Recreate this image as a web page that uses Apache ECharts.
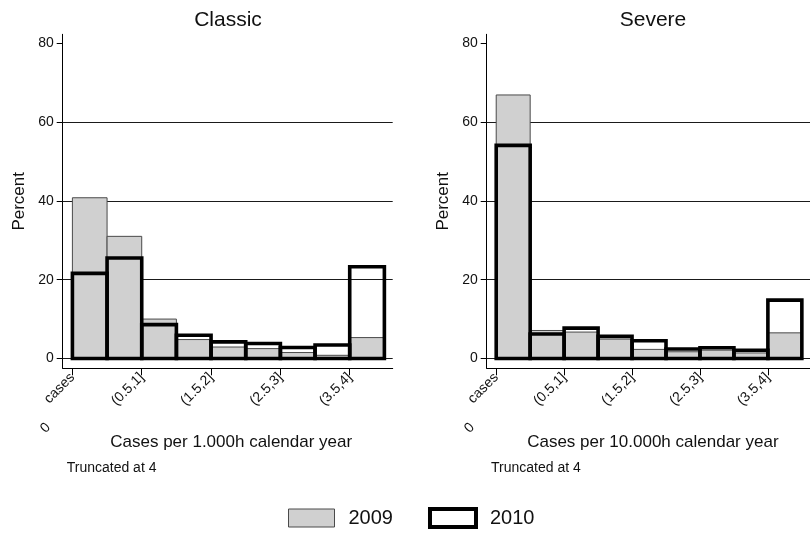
<!DOCTYPE html>
<html>
<head>
<meta charset="utf-8">
<script src="https://cdn.jsdelivr.net/npm/echarts@6/dist/echarts.min.js"></script>
<style>
  html, body { margin: 0; padding: 0; background: #fff; }
  #chart { width: 810px; height: 533px; }
</style>
</head>
<body>
<div id="chart"></div>
<script>
// ---- data ----
const binEdges = [0, 0.5, 1, 1.5, 2, 2.5, 3, 3.5, 4, 4.5];
const classic2009 = [40.8, 31.0, 10.0, 4.8, 2.9, 2.5, 1.5, 0.8, 5.3];
const classic2010 = [21.6, 25.5, 8.6, 5.9, 4.2, 3.8, 2.8, 3.4, 23.3];
const severe2009 = [66.9, 7.1, 6.7, 4.9, 2.3, 1.7, 2.1, 1.4, 6.5];
const severe2010 = [54.1, 6.2, 7.7, 5.6, 4.5, 2.4, 2.7, 2.1, 14.8];
const tickValues = [0, 1, 2, 3, 4];
const tickLabels = ['cases', '(0.5,1]', '(1.5,2]', '(2.5,3]', '(3.5,4]'];
const zeroLabel = '0';
const yTicks = [0, 20, 40, 60, 80];
const gridLines = [0, 20, 40, 60];
const panelTitles = ['Classic', 'Severe'];
const xTitles = ['Cases per 1.000h calendar year', 'Cases per 10.000h calendar year'];
const noteText = 'Truncated at 4';
const years = ['2009', '2010'];

// ---- helpers ----
function toBins(values) {
  return values.map((v, i) => [binEdges[i], binEdges[i + 1], v]);
}
function makeRender(style) {
  return function (params, api) {
    const x0 = api.value(0), x1 = api.value(1), v = api.value(2);
    const p0 = api.coord([x0, 0]);
    const p1 = api.coord([x1, v]);
    return {
      type: 'rect',
      shape: { x: p0[0], y: p1[1], width: p1[0] - p0[0], height: p0[1] - p1[1] },
      style: style
    };
  };
}
const style2009 = { fill: '#d0d0d0', stroke: '#4a4a4a', lineWidth: 1 };
const style2010 = { fill: 'none', stroke: '#000', lineWidth: 3.6 };
const txt = '#111';
const font = 'Liberation Sans, Arial, Helvetica, sans-serif';

const grids = [
  { left: 62.7, top: 34.3, width: 330, height: 334 },
  { left: 486.7, top: 34.3, width: 330, height: 334 }
];

const xAxes = [], yAxes = [], series = [];
[0, 1].forEach(g => {
  xAxes.push({
    gridIndex: g, type: 'value', min: -0.14, max: 4.62,
    axisLine: { show: true, onZero: false, lineStyle: { color: '#000', width: 1 } },
    axisTick: { show: true, customValues: tickValues, length: 7, lineStyle: { color: '#000', width: 1 } },
    axisLabel: {
      customValues: tickValues, rotate: 45, margin: 7, fontSize: 14, color: txt, fontFamily: font,
      formatter: v => tickLabels[tickValues.indexOf(v)] ?? ''
    },
    splitLine: { show: false },
    name: xTitles[g], nameLocation: 'middle', nameGap: 66,
    nameTextStyle: { fontSize: 17, color: txt, fontFamily: font, padding: [0, 0, 0, g === 0 ? 7 : 9] }
  });
  // secondary axis carrying the "0" of "0 cases"
  xAxes.push({
    gridIndex: g, type: 'value', min: -0.14, max: 4.62, position: 'bottom',
    axisLine: { show: false, onZero: false }, axisTick: { show: false },
    axisLabel: {
      customValues: [tickValues[0]], rotate: 45, margin: 33, fontSize: 14, color: txt, fontFamily: font,
      padding: [0, 34, 0, 0],
      formatter: () => zeroLabel
    },
    splitLine: { show: false }
  });
  yAxes.push({
    gridIndex: g, type: 'value', min: -2.5, max: 82.3,
    axisLine: { show: true, onZero: false, lineStyle: { color: '#000', width: 1 } },
    axisTick: { show: true, customValues: yTicks, length: 6, lineStyle: { color: '#000', width: 1 } },
    axisLabel: { customValues: yTicks, fontSize: 14, margin: 9, color: txt, fontFamily: font, padding: [5, 0, 0, 0] },
    splitLine: { show: false },
    name: 'Percent', nameLocation: 'middle', nameGap: 35, nameRotate: 90,
    nameTextStyle: { fontSize: 17, color: txt, fontFamily: font }
  });
});

const panels = [[classic2009, classic2010], [severe2009, severe2010]];
panels.forEach((pair, g) => {
  series.push({
    name: years[0], type: 'custom', xAxisIndex: g * 2, yAxisIndex: g,
    renderItem: makeRender(style2009), clip: false, z: 3,
    encode: { x: [0, 1], y: 2 },
    itemStyle: { color: '#d0d0d0', borderColor: '#4a4a4a', borderWidth: 1 },
    data: toBins(pair[0]),
    markLine: {
      silent: true, symbol: 'none', z: 1, animation: false,
      label: { show: false },
      lineStyle: { color: '#1a1a1a', width: 1, type: 'solid' },
      data: gridLines.map(v => ({ yAxis: v }))
    }
  });
  series.push({
    name: years[1], type: 'custom', xAxisIndex: g * 2, yAxisIndex: g,
    renderItem: makeRender(style2010), clip: false, z: 4,
    encode: { x: [0, 1], y: 2 },
    itemStyle: { color: '#fff', borderColor: '#000', borderWidth: 4 },
    data: toBins(pair[1])
  });
});

const option = {
  animation: false,
  backgroundColor: '#fff',
  textStyle: { fontFamily: font },
  title: [
    { text: panelTitles[0], left: 228, top: 10, padding: 0, textAlign: 'center',
      textStyle: { fontSize: 21, fontWeight: 'normal', color: txt, fontFamily: font } },
    { text: panelTitles[1], left: 653, top: 10, padding: 0, textAlign: 'center',
      textStyle: { fontSize: 21, fontWeight: 'normal', color: txt, fontFamily: font } },
    { text: noteText, left: 66.7, top: 461, padding: 0,
      textStyle: { fontSize: 14, fontWeight: 'normal', color: txt, fontFamily: font } },
    { text: noteText, left: 491, top: 461, padding: 0,
      textStyle: { fontSize: 14, fontWeight: 'normal', color: txt, fontFamily: font } }
  ],
  legend: {
    left: 288, top: 507, padding: 0, itemWidth: 46, itemHeight: 18, itemGap: 35, icon: 'rect',
    selectedMode: false,
    textStyle: { fontSize: 20, color: txt, fontFamily: font, padding: [0, 0, 0, 9] },
    data: [
      { name: years[0], itemStyle: { color: '#d0d0d0', borderColor: '#4a4a4a', borderWidth: 1 } },
      { name: years[1], itemStyle: { color: '#fff', borderColor: '#000', borderWidth: 4 } }
    ]
  },
  grid: grids,
  xAxis: xAxes,
  yAxis: yAxes,
  series: series
};

const chart = echarts.init(document.getElementById('chart'), null, { renderer: 'canvas' });
chart.setOption(option);
</script>
</body>
</html>
